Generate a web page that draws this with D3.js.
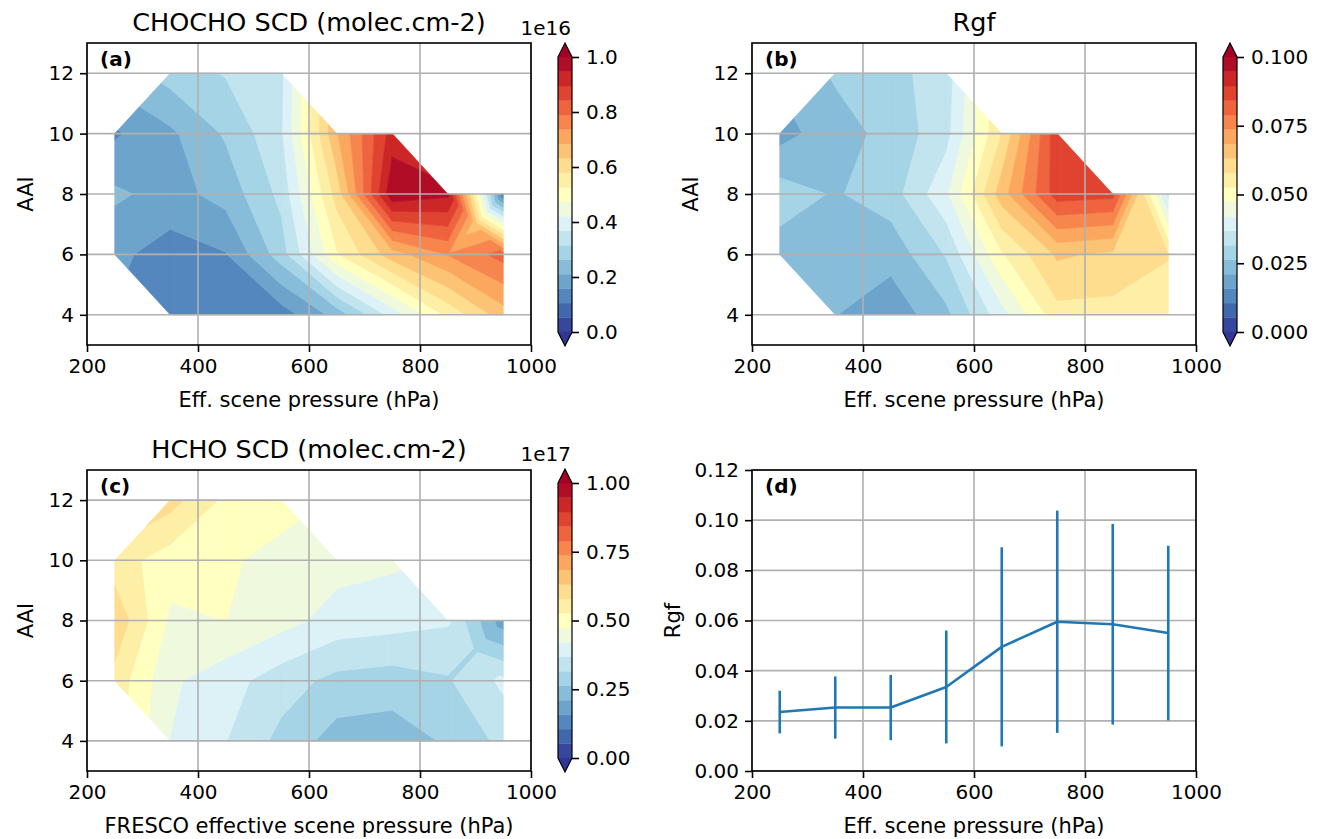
<!DOCTYPE html>
<html><head><meta charset="utf-8">
<script src="https://cdn.jsdelivr.net/npm/d3@7"></script>
<style>body{margin:0;background:#fff;} svg{font-family:"DejaVu Sans",sans-serif;}</style>
</head><body><svg id="chart" width="1319" height="839"></svg>
<script>
// ---------------- data ----------------
const pressures = [250, 350, 450, 550, 650, 750, 850, 950];   // hPa (x grid)
const aaiLevels = [4, 6, 8, 10, 12];                           // AAI (y grid)
// rows: AAI 4,6,8,10,12 ; columns: pressures ; null = no data
const chochoSCD = [ // x 1e16 molec.cm-2
  [null, 0.12, 0.12, 0.13, 0.23, 0.39, 0.54, 0.66],
  [0.17, 0.135, 0.155, 0.29, 0.52, 0.66, 0.74, 0.81],
  [0.22, 0.19, 0.23, 0.33, 0.60, 0.99, 0.96, 0.10],
  [0.15, 0.20, 0.27, 0.36, 0.68, 0.92, null, null],
  [null, 0.285, 0.32, 0.355, null, null, null, null]
];
const rgfGrid = [
  [null, 0.0212, 0.0175, 0.025, 0.040, 0.056, 0.056, 0.057],
  [0.024, 0.023, 0.023, 0.032, 0.052, 0.064, 0.062, 0.058],
  [0.029, 0.0258, 0.029, 0.041, 0.066, 0.087, 0.086, 0.035],
  [0.019, 0.024, 0.028, 0.035, 0.058, 0.088, null, null],
  [null, 0.027, 0.030, 0.034, null, null, null, null]
];
const hchoSCD = [ // x 1e17 molec.cm-2
  [null, 0.42, 0.37, 0.30, 0.24, 0.235, 0.27, 0.33],
  [0.56, 0.43, 0.39, 0.34, 0.30, 0.29, 0.31, 0.38],
  [0.62, 0.462, 0.474, 0.44, 0.40, 0.39, 0.375, 0.18],
  [0.55, 0.50, 0.48, 0.46, 0.44, 0.43, null, null],
  [null, 0.60, 0.515, 0.49, null, null, null, null]
];
const rgfMean = [0.0235, 0.0253, 0.0253, 0.0335, 0.0495, 0.0595, 0.0585, 0.055];
const rgfStd  = [0.0085, 0.0124, 0.0130, 0.0225, 0.0397, 0.0443, 0.0400, 0.0348];

const xTicks = [200, 400, 600, 800, 1000];
const aaiTicks = [4, 6, 8, 10, 12];
const rgfTicks = [0, 0.02, 0.04, 0.06, 0.08, 0.10, 0.12];
const cbTicksA = [0, 0.2, 0.4, 0.6, 0.8, 1.0];
const cbTicksB = [0, 0.025, 0.05, 0.075, 0.1];
const cbTicksC = [0, 0.25, 0.5, 0.75, 1.0];
const nLevels = 20;

// ---------------- helpers ----------------
const svg = d3.select("#chart");
const FONT = "DejaVu Sans";
const stops = ["#313695","#4575b4","#74add1","#abd9e9","#e0f3f8","#ffffbf","#fee090","#fdae61","#f46d43","#d73027","#a50026"];
const cmap = d3.scaleLinear().domain(d3.range(11).map(i => i / 10)).range(stops).interpolate(d3.interpolateRgb).clamp(true);

// cells: full quads are used directly (marching-squares style, straight segments),
// quads that are saddles for some level are split into 4 triangles, 3-corner quads give one triangle
function buildCells(grid, levels) {
  const cells = [];
  for (let j = 0; j < aaiLevels.length - 1; j++) {
    for (let i = 0; i < pressures.length - 1; i++) {
      const c = [[i, j], [i + 1, j], [i + 1, j + 1], [i, j + 1]].map(([a, b]) => ({x: pressures[a], y: aaiLevels[b], v: grid[b][a]}));
      const valid = c.filter(p => p.v != null);
      if (valid.length === 4) {
        const saddle = levels.some(t => {
          const a = c[0].v >= t, b = c[1].v >= t, cc = c[2].v >= t, d = c[3].v >= t;
          return a === cc && b === d && a !== b;
        });
        if (saddle) {
          const ctr = {x: (pressures[i] + pressures[i + 1]) / 2, y: (aaiLevels[j] + aaiLevels[j + 1]) / 2, v: d3.mean(c, p => p.v)};
          for (let k = 0; k < 4; k++) cells.push([c[k], c[(k + 1) % 4], ctr]);
        } else cells.push(c);
      } else if (valid.length === 3) cells.push(valid);
    }
  }
  return cells;
}
function clipPoly(poly, level, keepAbove) {
  const out = [];
  for (let k = 0; k < poly.length; k++) {
    const a = poly[k], b = poly[(k + 1) % poly.length];
    const ina = keepAbove ? a.v >= level : a.v <= level;
    const inb = keepAbove ? b.v >= level : b.v <= level;
    if (ina) out.push(a);
    if (ina !== inb) {
      const t = (level - a.v) / (b.v - a.v);
      out.push({x: a.x + t * (b.x - a.x), y: a.y + t * (b.y - a.y), v: level});
    }
  }
  return out;
}

function styleAxis(ax) {
  ax.attr("font-size", 20).attr("font-family", FONT);
  ax.select(".domain").remove();
  ax.selectAll(".tick line").attr("stroke", "#000").attr("stroke-width", 1.6);
  ax.selectAll(".tick text").attr("fill", "#000");
}

function frame(p, yDomain, yTicks, yFmt, xlabel, ylabel, ylabelX) {
  const g = svg.append("g");
  const x = d3.scaleLinear().domain([200, 1000]).range([p.x0, p.x1]);
  const y = d3.scaleLinear().domain(yDomain).range([p.y1, p.y0]);
  return {g, x, y, finish: () => {
    const grid = g.append("g");
    grid.selectAll("line.gx").data(xTicks).join("line").attr("class", "gx")
      .attr("x1", d => x(d)).attr("x2", d => x(d)).attr("y1", p.y0).attr("y2", p.y1)
      .attr("stroke", "#b0b0b0").attr("stroke-width", 1.6);
    grid.selectAll("line.gy").data(yTicks).join("line").attr("class", "gy")
      .attr("y1", d => y(d)).attr("y2", d => y(d)).attr("x1", p.x0).attr("x2", p.x1)
      .attr("stroke", "#b0b0b0").attr("stroke-width", 1.6);
    const ax = g.append("g").attr("transform", `translate(0,${p.y1})`)
      .call(d3.axisBottom(x).tickValues(xTicks).tickSize(7).tickPadding(7).tickFormat(d3.format("d")));
    styleAxis(ax);
    const ay = g.append("g").attr("transform", `translate(${p.x0},0)`)
      .call(d3.axisLeft(y).tickValues(yTicks).tickSize(7).tickPadding(6).tickFormat(yFmt));
    styleAxis(ay);
    g.append("rect").attr("x", p.x0).attr("y", p.y0).attr("width", p.x1 - p.x0).attr("height", p.y1 - p.y0)
      .attr("fill", "none").attr("stroke", "#000").attr("stroke-width", 1.6);
    g.append("text").attr("x", (p.x0 + p.x1) / 2).attr("y", p.y1 + 62).attr("text-anchor", "middle")
      .attr("font-size", 21).attr("font-family", FONT).text(xlabel);
    g.append("text").attr("transform", `translate(${ylabelX},${(p.y0 + p.y1) / 2}) rotate(-90)`)
      .attr("text-anchor", "middle").attr("font-size", 21).attr("font-family", FONT).text(ylabel);
    g.append("text").attr("x", p.x0 + 13).attr("y", p.y0 + 23).attr("font-size", 20).attr("font-weight", "bold")
      .attr("font-family", FONT).text(p.tag);
  }};
}

function contourPanel(p, grid, vmax, title, cb, cbTicks, cbFmt, offsetText, xlabel) {
  const F = frame(p, [3, 13], aaiTicks, d3.format("d"), xlabel, "AAI", p.x0 - 54);
  const {g, x, y} = F;
  const levels = d3.range(nLevels).map(i => vmax * i / (nLevels - 1));
  const nb = nLevels - 1;
  const bands = [{lo: -Infinity, hi: levels[0], c: cmap(0)}];
  for (let k = 0; k < nb; k++) bands.push({lo: levels[k], hi: levels[k + 1], c: cmap((k + 0.5) / nb)});
  bands.push({lo: levels[nb], hi: Infinity, c: cmap(1)});
  const cells = buildCells(grid, levels);
  const line = d3.line().x(d => x(d.x)).y(d => y(d.y));
  bands.forEach(b => {
    const polys = cells.map(t => {
      let q = t;
      if (isFinite(b.lo)) q = clipPoly(q, b.lo, true);
      if (q.length >= 3 && isFinite(b.hi)) q = clipPoly(q, b.hi, false);
      return q;
    }).filter(q => q.length >= 3);
    if (!polys.length) return;
    g.append("path").attr("d", polys.map(q => line(q) + "Z").join(""))
      .attr("fill", b.c).attr("stroke", b.c).attr("stroke-width", 0.7).attr("stroke-linejoin", "round");
  });
  F.finish();
  g.append("text").attr("x", (p.x0 + p.x1) / 2).attr("y", p.y0 - 12).attr("text-anchor", "middle")
    .attr("font-size", 25.5).attr("font-family", FONT).text(title);

  // colorbar
  const cy = d3.scaleLinear().domain([0, vmax]).range([cb.y1, cb.y0]);
  const cgr = svg.append("g");
  for (let k = 0; k < nb; k++) {
    cgr.append("rect").attr("x", cb.x0).attr("width", cb.x1 - cb.x0)
      .attr("y", cy(levels[k + 1])).attr("height", cy(levels[k]) - cy(levels[k + 1]) + 0.3)
      .attr("fill", cmap((k + 0.5) / nb));
  }
  const th = 14, xm = (cb.x0 + cb.x1) / 2;
  cgr.append("path").attr("d", `M${cb.x0},${cb.y0 + 0.3}L${xm},${cb.y0 - th}L${cb.x1},${cb.y0 + 0.3}Z`).attr("fill", cmap(1));
  cgr.append("path").attr("d", `M${cb.x0},${cb.y1 - 0.3}L${xm},${cb.y1 + th}L${cb.x1},${cb.y1 - 0.3}Z`).attr("fill", cmap(0));
  cgr.append("path").attr("d", `M${cb.x0},${cb.y0}L${xm},${cb.y0 - th}L${cb.x1},${cb.y0}L${cb.x1},${cb.y1}L${xm},${cb.y1 + th}L${cb.x0},${cb.y1}Z`)
    .attr("fill", "none").attr("stroke", "#000").attr("stroke-width", 1.2);
  const ca = cgr.append("g").attr("transform", `translate(${cb.x1},0)`)
    .call(d3.axisRight(cy).tickValues(cbTicks).tickSize(7).tickPadding(7).tickFormat(cbFmt));
  styleAxis(ca);
  cgr.append("text").attr("x", cb.x1 - 1).attr("y", cb.y0 - 22).attr("text-anchor", "end")
    .attr("font-size", 20).attr("font-family", FONT).text(offsetText);
}

// ---------------- panels ----------------
contourPanel({x0: 87, x1: 531, y0: 43, y1: 345, tag: "(a)"}, chochoSCD, 1.0, "CHOCHO SCD (molec.cm-2)",
  {x0: 558, x1: 572, y0: 57, y1: 332}, cbTicksA, d3.format(".1f"), "1e16", "Eff. scene pressure (hPa)");
contourPanel({x0: 752, x1: 1196, y0: 43, y1: 345, tag: "(b)"}, rgfGrid, 0.1, "Rgf",
  {x0: 1223, x1: 1237, y0: 57, y1: 332}, cbTicksB, d3.format(".3f"), "", "Eff. scene pressure (hPa)");
contourPanel({x0: 87, x1: 531, y0: 470, y1: 771, tag: "(c)"}, hchoSCD, 1.0, "HCHO SCD (molec.cm-2)",
  {x0: 558, x1: 572, y0: 483, y1: 758}, cbTicksC, d3.format(".2f"), "1e17", "FRESCO effective scene pressure (hPa)");

// panel (d)
(function () {
  const p = {x0: 752, x1: 1196, y0: 470, y1: 771, tag: "(d)"};
  const F = frame(p, [0, 0.12], rgfTicks, d3.format(".2f"), "Eff. scene pressure (hPa)", "Rgf", p.x0 - 72);
  const {g, x, y} = F;
  F.finish();
  const blue = "#1f77b4";
  g.append("g").selectAll("line").data(pressures).join("line")
    .attr("x1", d => x(d)).attr("x2", d => x(d))
    .attr("y1", (d, i) => y(rgfMean[i] - rgfStd[i])).attr("y2", (d, i) => y(rgfMean[i] + rgfStd[i]))
    .attr("stroke", blue).attr("stroke-width", 2.6);
  g.append("path").datum(pressures).attr("fill", "none").attr("stroke", blue).attr("stroke-width", 2.6)
    .attr("stroke-linejoin", "round")
    .attr("d", d3.line().x(d => x(d)).y((d, i) => y(rgfMean[i])));
})();
</script></body></html>
